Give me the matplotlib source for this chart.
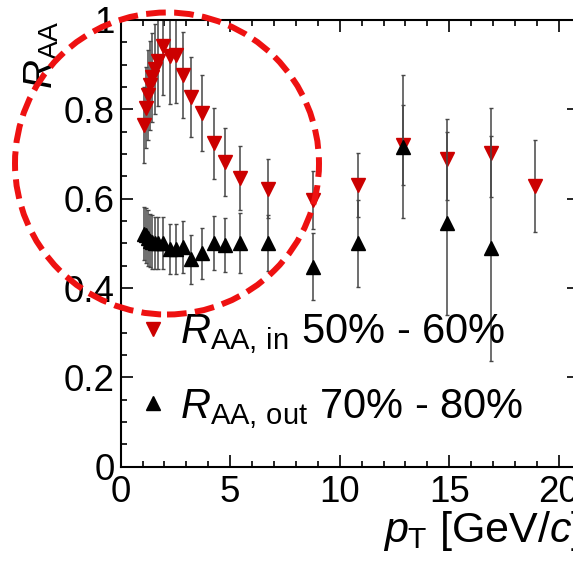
import matplotlib
matplotlib.use('Agg')
import matplotlib.pyplot as plt
import matplotlib.patches as mpatches
from matplotlib.ticker import MultipleLocator, FuncFormatter

plt.rcParams['font.family'] = ['Liberation Sans', 'DejaVu Sans']
plt.rcParams['mathtext.fontset'] = 'custom'
plt.rcParams['mathtext.rm'] = 'Liberation Sans'
plt.rcParams['mathtext.it'] = 'Liberation Sans:italic'

# pT bin centres (GeV/c)
pt = [1.05, 1.15, 1.25, 1.35, 1.45, 1.55, 1.7, 1.95, 2.25, 2.55, 2.85, 3.2, 3.7,
      4.25, 4.75, 5.45, 6.75, 8.8, 10.85, 12.9, 14.9, 16.9, 18.9]

# R_AA in-plane, 50% - 60%
raa_in = [0.764, 0.804, 0.832, 0.854, 0.872, 0.890, 0.908, 0.942, 0.919, 0.921,
          0.877, 0.828, 0.792, 0.724, 0.683, 0.647, 0.622, 0.597, 0.631, 0.720,
          0.688, 0.703, 0.628]
err_in = [0.085, 0.09, 0.10, 0.10, 0.10, 0.10, 0.10, 0.11, 0.108, 0.106,
          0.097, 0.09, 0.085, 0.08, 0.076, 0.072, 0.066, 0.064, 0.071, 0.089,
          0.09, 0.10, 0.103]

# R_AA out-of-plane, 70% - 80%
pt_out = pt[:-1]
raa_out = [0.522, 0.518, 0.512, 0.506, 0.503, 0.501, 0.501, 0.500, 0.487, 0.487,
           0.492, 0.464, 0.478, 0.501, 0.496, 0.501, 0.501, 0.448, 0.500, 0.716,
           0.545, 0.489]
err_out = [0.06, 0.062, 0.062, 0.06, 0.06, 0.058, 0.058, 0.058, 0.056, 0.056,
           0.058, 0.054, 0.057, 0.06, 0.06, 0.068, 0.063, 0.075, 0.097, 0.16,
           0.205, 0.252]

W, H = 573, 561
fig = plt.figure(figsize=(W / 100, H / 100), dpi=100)
ax = fig.add_axes([120.6 / W, 1 - 466.7 / H, (578.5 - 120.6) / W, (466.7 - 20) / H])

red = '#cc0000'
bar_col = '#474747'

# in-plane points
ax.errorbar(pt, raa_in, yerr=err_in, fmt='none', ecolor=bar_col, elinewidth=1.1,
            capsize=1.5, capthick=1.0)
ax.plot(pt, raa_in, 'v', color=red, ms=9.5, ls='none',
        label=r'$R_{\mathrm{AA,\,in}}$ 50% - 60%')

# out-of-plane points
ax.errorbar(pt_out, raa_out, yerr=err_out, fmt='none', ecolor=bar_col, elinewidth=1.1,
            capsize=1.5, capthick=1.0)
ax.plot(pt_out, raa_out, '^', color='black', ms=9.5, ls='none',
        label=r'$R_{\mathrm{AA,\,out}}$ 70% - 80%')

ax.set_xlim(0, 20.9)
ax.set_ylim(0, 1)
ax.xaxis.set_major_locator(MultipleLocator(5))
ax.xaxis.set_minor_locator(MultipleLocator(1))
ax.yaxis.set_major_locator(MultipleLocator(0.2))
ax.yaxis.set_minor_locator(MultipleLocator(0.05))
ax.yaxis.set_major_formatter(FuncFormatter(lambda v, p: f'{v:g}'))
ax.tick_params(which='both', direction='in', top=True, right=True, width=1.2,
               labelsize=26.5)
ax.tick_params(which='major', length=8.6)
ax.tick_params(which='minor', length=4.3)
ax.tick_params(axis='x', pad=6)
ax.tick_params(axis='y', pad=4)
for s in ax.spines.values():
    s.set_linewidth(1.5)

leg = ax.legend(loc='upper left', bbox_to_anchor=(0.053, 0.345), frameon=False,
                fontsize=30, handlelength=0.4, handletextpad=0.45,
                labelspacing=0.73, borderpad=0, borderaxespad=0)

# axis titles, ROOT style
fig.text(383 / W, 1 - 542 / H, r'$p_{\mathrm{T}}$ [GeV/$c$]', fontsize=31,
         ha='left', va='baseline')
fig.text(52 / W, 1 - 20 / H, r'$R_{\mathrm{AA}}$', fontsize=29, rotation=90,
         rotation_mode='anchor', ha='right', va='baseline')

# red dashed circle highlighting the low-pT region
circ = mpatches.Ellipse((167 / W, 1 - 163.5 / H), 2 * 152 / W, 2 * 151 / H,
                        transform=fig.transFigure, fill=False, ec='#ee1111',
                        lw=4.3, ls=(0, (3.3, 1.4)), zorder=10)
fig.add_artist(circ)

fig.savefig('out.png', dpi=100)
